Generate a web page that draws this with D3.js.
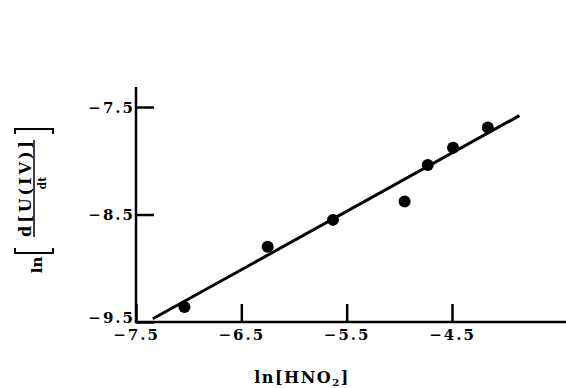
<!DOCTYPE html>
<html>
<head>
<meta charset="utf-8">
<script src="https://cdn.jsdelivr.net/npm/d3@7"></script>
<style>
  body { margin: 0; background: #fff; }
  svg { display: block; }
  text { font-family: "DejaVu Serif", "Liberation Serif", serif; font-weight: bold; fill: #000; }
</style>
</head>
<body>
<svg id="chart" width="566" height="388"></svg>
<script>
// ln[HNO2] vs ln(d[U(IV)]/dt)
var lnHNO2 = [-7.04, -6.25, -5.63, -4.95, -4.73, -4.49, -4.16];
var lnRate = [-9.36, -8.80, -8.55, -8.38, -8.04, -7.88, -7.69];
var fitX = [-7.34, -3.86];
var fitY = [-9.47, -7.58];
var xTicks = [-7.5, -6.5, -5.5, -4.5];
var yTicks = [-7.5, -8.5, -9.5];

var svg = d3.select('#chart');

var x = d3.scaleLinear().domain([-7.5, -4.5]).range([136, 452]);
var y = d3.scaleLinear().domain([-9.5, -7.5]).range([322, 107]);

var fmt = function(d) { return d3.format('.1f')(d).replace('-', '\u2212'); };

// axis lines
svg.append('line')
   .attr('x1', 136).attr('x2', 136)
   .attr('y1', 87).attr('y2', 323)
   .attr('stroke', '#000').attr('stroke-width', 2.5);
svg.append('line')
   .attr('x1', 135).attr('x2', 566)
   .attr('y1', 322).attr('y2', 322)
   .attr('stroke', '#000').attr('stroke-width', 2.5);

// y axis ticks pointing inward
var yAxis = svg.append('g')
   .attr('transform', 'translate(136,0)')
   .call(d3.axisLeft(y).tickValues(yTicks).tickSize(-18).tickPadding(4).tickFormat(fmt));
yAxis.select('.domain').remove();
yAxis.selectAll('.tick line').attr('stroke', '#000').attr('stroke-width', 2.5);
yAxis.selectAll('.tick text')
     .attr('x', -1)
     .attr('dy', '0.36em')
     .style('font-size', '15px')
     .style('letter-spacing', '2px')
     .style('font-family', '"DejaVu Serif", serif');
yAxis.selectAll('.tick').filter(function(d) { return d === -9.5; })
     .select('text').attr('dy', '0em');

// x axis ticks pointing up
var xAxis = svg.append('g')
   .attr('transform', 'translate(0,322)')
   .call(d3.axisBottom(x).tickValues(xTicks).tickSize(-18).tickPadding(0).tickFormat(fmt));
xAxis.select('.domain').remove();
xAxis.selectAll('.tick line').attr('stroke', '#000').attr('stroke-width', 2.5);
xAxis.selectAll('.tick text')
     .attr('y', 7)
     .attr('x', 0)
     .style('font-size', '15px')
     .style('letter-spacing', '2px')
     .style('font-family', '"DejaVu Serif", serif');

// fitted line
svg.append('line')
   .attr('x1', x(fitX[0])).attr('y1', y(fitY[0]))
   .attr('x2', x(fitX[1])).attr('y2', y(fitY[1]))
   .attr('stroke', '#000').attr('stroke-width', 3);

// data points
svg.selectAll('circle.pt')
   .data(lnHNO2)
   .enter().append('circle')
   .attr('class', 'pt')
   .attr('cx', function(d) { return x(d); })
   .attr('cy', function(d, i) { return y(lnRate[i]); })
   .attr('r', 6)
   .attr('fill', '#000');

// x title
var xt = svg.append('text')
   .attr('x', 302).attr('y', 383)
   .attr('text-anchor', 'middle')
   .style('font-size', '16px')
   .style('letter-spacing', '1.5px');
xt.append('tspan').text('ln[HNO');
xt.append('tspan').attr('dy', 3).style('font-size', '10px').text('2');
xt.append('tspan').attr('dy', -3).text(']');

// y title, rotated
var yt = svg.append('g').attr('transform', 'translate(34,190) rotate(-90)');
yt.append('text')
  .attr('x', -75).attr('y', 8)
  .attr('text-anchor', 'middle')
  .style('font-size', '15px')
  .text('ln');
yt.append('text')
  .attr('x', -47).attr('y', -3)
  .attr('textLength', 96).attr('lengthAdjust', 'spacing')
  .style('font-size', '16px')
  .text('d[U(IV)]');
yt.append('line')
  .attr('x1', -47).attr('x2', 50)
  .attr('y1', 0).attr('y2', 0)
  .attr('stroke', '#000').attr('stroke-width', 1.5);
yt.append('text')
  .attr('x', 7).attr('y', 12)
  .attr('text-anchor', 'middle')
  .style('font-size', '11px')
  .text('dt');
// big brackets
yt.append('path')
  .attr('d', 'M-58,-19 L-63,-19 L-63,19 L-58,19')
  .attr('fill', 'none').attr('stroke', '#000').attr('stroke-width', 2);
yt.append('path')
  .attr('d', 'M56,-19 L61,-19 L61,19 L56,19')
  .attr('fill', 'none').attr('stroke', '#000').attr('stroke-width', 2);
</script>
</body>
</html>
